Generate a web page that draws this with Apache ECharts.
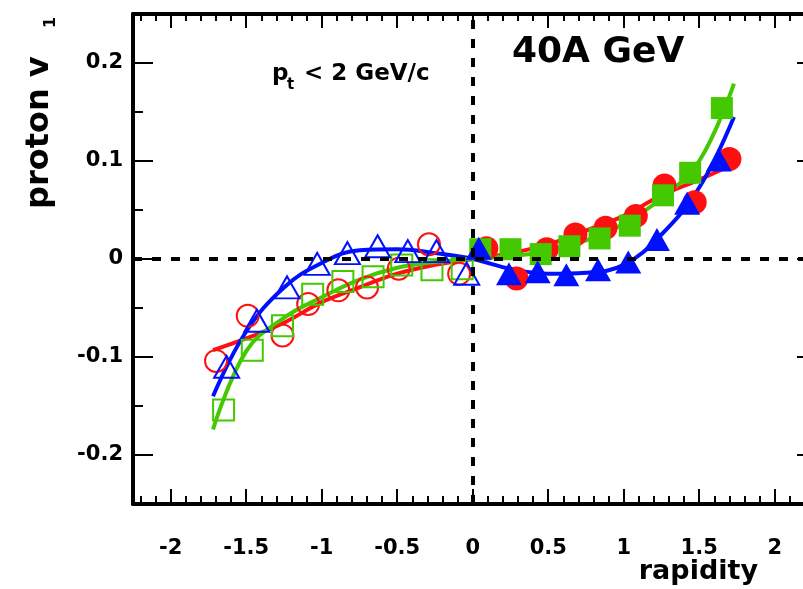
<!DOCTYPE html>
<html>
<head>
<meta charset="utf-8">
<script src="https://cdn.jsdelivr.net/npm/echarts@6/dist/echarts.min.js"></script>
<style>
html, body { margin: 0; padding: 0; background: #fff; }
#main { width: 803px; height: 589px; }
</style>
</head>
<body>
<div id="main"></div>
<script>
// tick positions
var xMajor = [-2, -1.5, -1, -0.5, 0, 0.5, 1, 1.5, 2];
var xMinor = [-2.2, -2.1, -1.9, -1.8, -1.7, -1.6, -1.4, -1.3, -1.2, -1.1, -0.9, -0.8, -0.7, -0.6,
              -0.4, -0.3, -0.2, -0.1, 0.1, 0.2, 0.3, 0.4, 0.6, 0.7, 0.8, 0.9, 1.1, 1.2, 1.3, 1.4,
              1.6, 1.7, 1.8, 1.9, 2.1, 2.2];
var yMajor = [-0.2, -0.1, 0, 0.1, 0.2];
var yMinor = [-0.25, -0.15, -0.05, 0.05, 0.15, 0.25];

// red circles
var redOpenX = [-1.70, -1.49, -1.26, -1.09, -0.89, -0.70, -0.49, -0.29, -0.09];
var redOpenY = [-0.104, -0.058, -0.078, -0.046, -0.032, -0.029, -0.010, 0.015, -0.015];
var redFillX = [0.09, 0.29, 0.49, 0.68, 0.88, 1.08, 1.27, 1.47, 1.70];
var redFillY = [0.011, -0.020, 0.010, 0.025, 0.032, 0.044, 0.075, 0.058, 0.102];

// green squares
var greenOpenX = [-1.65, -1.46, -1.26, -1.06, -0.86, -0.66, -0.47, -0.27, -0.07];
var greenOpenY = [-0.154, -0.093, -0.068, -0.036, -0.023, -0.018, -0.006, -0.011, -0.010];
var greenFillX = [0.05, 0.25, 0.45, 0.64, 0.84, 1.04, 1.26, 1.44, 1.65];
var greenFillY = [0.010, 0.010, 0.005, 0.013, 0.021, 0.034, 0.065, 0.088, 0.154];

// blue triangles
var blueOpenX = [-1.63, -1.43, -1.23, -1.03, -0.83, -0.63, -0.43, -0.24, -0.04];
var blueOpenY = [-0.110, -0.063, -0.029, -0.005, 0.006, 0.013, 0.008, 0.008, -0.015];
var blueFillX = [0.04, 0.24, 0.43, 0.62, 0.83, 1.03, 1.22, 1.42, 1.63];
var blueFillY = [0.011, -0.015, -0.013, -0.016, -0.011, -0.003, 0.020, 0.057, 0.101];

// fit curves
var fitX = [-1.72, -1.5, -1.25, -1.0, -0.75, -0.5, -0.25, 0, 0.25, 0.5, 0.75, 1.0, 1.25, 1.5, 1.73];
var redFit = [-0.093, -0.081, -0.065, -0.044, -0.029, -0.015, -0.006, 0, 0.006, 0.015, 0.029, 0.044, 0.065, 0.081, 0.097];
var greenFit = [-0.174, -0.094, -0.060, -0.039, -0.021, -0.009, -0.003, 0, 0.003, 0.008, 0.019, 0.036, 0.062, 0.100, 0.179];
var blueFit = [-0.140, -0.074, -0.029, -0.004, 0.009, 0.010, 0.006, 0, -0.010, -0.015, -0.014, -0.006, 0.025, 0.073, 0.145];

var RED = '#ff1010', GREEN = '#44c800', BLUE = '#0010ff';
var FONT = 'DejaVu Sans';

function pairs(xs, ys) {
    var out = [];
    for (var i = 0; i < xs.length; i++) out.push([xs[i], ys[i]]);
    return out;
}

function xAx(pos, ticks, len, line, labels) {
    return {
        type: 'value', position: pos, min: -2.25, max: 2.28,
        splitLine: { show: false },
        axisLine: { show: line, onZero: false, lineStyle: { color: '#000', width: 4 } },
        axisTick: { show: true, inside: true, length: len, customValues: ticks, lineStyle: { color: '#000', width: 2 } },
        axisLabel: { show: labels, customValues: ticks, margin: 34, color: '#000', fontFamily: FONT, fontWeight: 'bold', fontSize: 21 }
    };
}
function yAx(pos, ticks, len, line, labels) {
    return {
        type: 'value', position: pos, min: -0.25, max: 0.25,
        splitLine: { show: false },
        axisLine: { show: line, onZero: false, lineStyle: { color: '#000', width: 4 } },
        axisTick: { show: true, inside: true, length: len, customValues: ticks, lineStyle: { color: '#000', width: 2 } },
        axisLabel: { show: labels, customValues: ticks, margin: 10, color: '#000', fontFamily: FONT, fontWeight: 'bold', fontSize: 21 }
    };
}

function fitLine(name, color, ys, extra) {
    var s = {
        name: name, type: 'line', data: pairs(fitX, ys), smooth: 0.4, showSymbol: false,
        lineStyle: { color: color, width: 4 }, silent: true, z: 2
    };
    if (extra) s.markLine = extra;
    return s;
}
function pts(color, xs, ys, symbol, size, filled) {
    return {
        type: 'scatter', data: pairs(xs, ys), symbol: symbol, symbolSize: size, silent: true, z: 3,
        itemStyle: filled ? { color: color, opacity: 1 } : { color: 'rgba(0,0,0,0)', borderColor: color, borderWidth: 2, opacity: 1 }
    };
}

function txt(x, y, s, font, align, rot) {
    return {
        type: 'text', x: x, y: y, rotation: rot || 0,
        style: { text: s, fill: '#000', font: font, textAlign: align, textVerticalAlign: 'middle', align: align, verticalAlign: 'middle' }
    };
}

var chart = echarts.init(document.getElementById('main'));
chart.setOption({
    animation: false,
    backgroundColor: '#fff',
    grid: { left: 133, top: 14, width: 684, height: 490, outerBoundsMode: 'none', containLabel: false },
    xAxis: [
        xAx('bottom', xMajor, 15, true, true),
        xAx('bottom', xMinor, 8, false, false),
        xAx('top', xMajor, 14, true, false),
        xAx('top', xMinor, 7, false, false)
    ],
    yAxis: [
        yAx('left', yMajor, 20, true, true),
        yAx('left', yMinor, 10, false, false),
        yAx('right', yMajor, 20, true, false),
        yAx('right', yMinor, 10, false, false)
    ],
    series: [
        fitLine('red fit', RED, redFit, {
            silent: true, symbol: 'none', label: { show: false },
            lineStyle: { color: '#000', width: 4, type: [9, 10] },
            data: [{ xAxis: 0 }, { yAxis: 0 }]
        }),
        pts(RED, redOpenX, redOpenY, 'circle', 22, false),
        pts(RED, redFillX, redFillY, 'circle', 24, true),
        fitLine('green fit', GREEN, greenFit),
        pts(GREEN, greenOpenX, greenOpenY, 'rect', 21, false),
        pts(GREEN, greenFillX, greenFillY, 'rect', 22, true),
        fitLine('blue fit', BLUE, blueFit),
        pts(BLUE, blueOpenX, blueOpenY, 'triangle', [25, 22], false),
        pts(BLUE, blueFillX, blueFillY, 'triangle', [26, 23], true)
    ],
    graphic: [
        txt(512, 53, '40A GeV', 'bold 36px "DejaVu Sans"', 'left'),
        txt(272, 74, 'p', 'bold 23px "DejaVu Sans"', 'left'),
        txt(287, 85, 't', 'bold 15px "DejaVu Sans"', 'left'),
        txt(304, 74, '< 2 GeV/c', 'bold 23px "DejaVu Sans"', 'left'),
        txt(758, 572, 'rapidity', 'bold 27px "DejaVu Sans"', 'right'),
        txt(40, 209, 'proton v', 'bold 32px "DejaVu Sans"', 'left', Math.PI / 2),
        txt(51, 28, '1', 'bold 16px "DejaVu Sans"', 'left', Math.PI / 2)
    ]
});
</script>
</body>
</html>
